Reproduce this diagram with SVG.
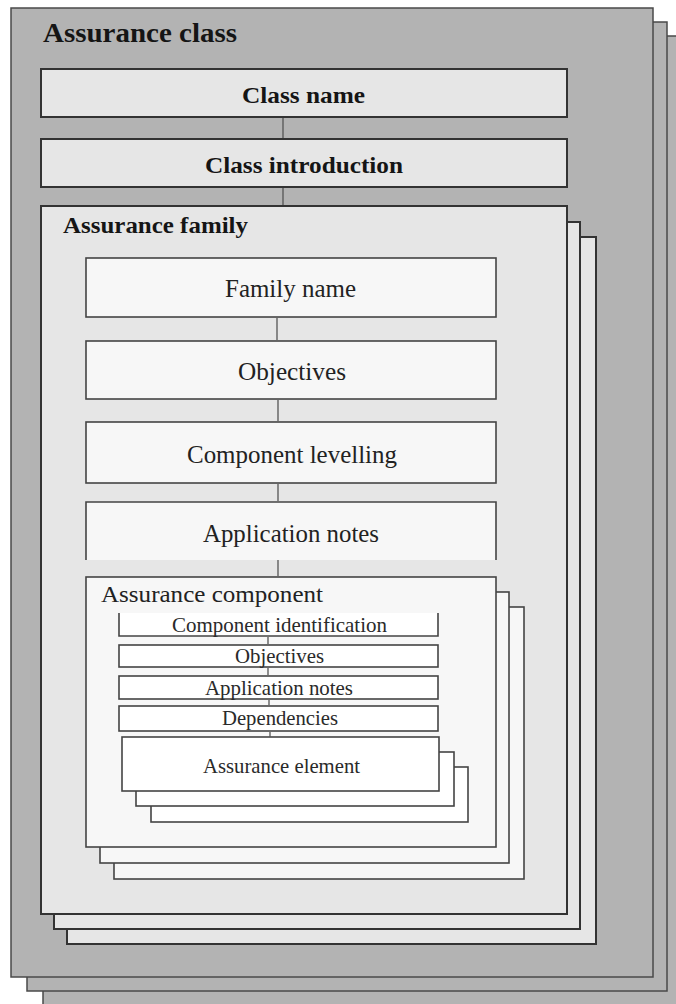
<svg xmlns="http://www.w3.org/2000/svg" width="676" height="1004" viewBox="0 0 676 1004">
<style>
.bg{fill:#ffffff}
.cls{fill:#b3b3b3;stroke:#4a4a4a;stroke-width:1.5}
.clsbox{fill:#e6e6e6;stroke:#333;stroke-width:2}
.fam{fill:#e6e6e6;stroke:#333;stroke-width:2}
.famb{fill:#f7f7f7;stroke:#444;stroke-width:1.6}
.comp{fill:#f7f7f7;stroke:#444;stroke-width:1.6}
.sub{fill:#ffffff;stroke:#444;stroke-width:1.6}
.open{fill:none;stroke:#444;stroke-width:1.6}
.conn{stroke:#555;stroke-width:1.3;fill:none}
.tb{font-family:"Liberation Serif","Times New Roman",serif;font-weight:bold;fill:#151515}
.tr{font-family:"Liberation Serif","Times New Roman",serif;fill:#222}
.ts{font-family:"Liberation Serif","Times New Roman",serif;fill:#2a2a2a;font-size:21px}
</style>
<rect class="bg" x="0" y="0" width="676" height="1004"/>
<g id="assurance-class">
<rect class="cls" x="43" y="36" width="640" height="972"/>
<rect class="cls" x="27" y="22" width="640" height="969"/>
<rect class="cls" x="11" y="8" width="642" height="969"/>
<text class="tb" x="43" y="42" font-size="28" textLength="194" lengthAdjust="spacingAndGlyphs">Assurance class</text>
</g>
<g id="class-name">
<rect class="clsbox" x="41" y="69" width="526" height="48"/>
<text class="tb" x="242" y="103" font-size="24" textLength="123" lengthAdjust="spacingAndGlyphs">Class name</text>
</g>
<g id="class-introduction">
<rect class="clsbox" x="41" y="139" width="526" height="48"/>
<text class="tb" x="205" y="173" font-size="24" textLength="198" lengthAdjust="spacingAndGlyphs">Class introduction</text>
</g>
<g id="assurance-family">
<rect class="fam" x="67" y="237" width="529" height="707" fill="#e8e8e8"/>
<rect class="fam" x="54" y="222" width="526" height="707" fill="#e8e8e8"/>
<rect class="fam" x="41" y="206" width="526" height="708"/>
<text class="tb" x="63" y="233" font-size="24" textLength="185" lengthAdjust="spacingAndGlyphs">Assurance family</text>
</g>
<g id="family-name">
<rect class="famb" x="86" y="258" width="410" height="59"/>
<text class="tr" x="225" y="297" font-size="25" textLength="131" lengthAdjust="spacingAndGlyphs">Family name</text>
</g>
<g id="objectives">
<rect class="famb" x="86" y="341" width="410" height="58"/>
<text class="tr" x="238" y="380" font-size="25" textLength="108" lengthAdjust="spacingAndGlyphs">Objectives</text>
</g>
<g id="component-levelling">
<rect class="famb" x="86" y="422" width="410" height="61"/>
<text class="tr" x="187" y="463" font-size="25" textLength="210" lengthAdjust="spacingAndGlyphs">Component levelling</text>
</g>
<g id="application-notes">
<rect x="86" y="502" width="410" height="58" fill="#f7f7f7"/>
<path class="open" d="M86 560 V502 H496 V560"/>
<text class="tr" x="203" y="542" font-size="25" textLength="176" lengthAdjust="spacingAndGlyphs">Application notes</text>
</g>
<g id="assurance-component">
<rect class="comp" x="114" y="607" width="410" height="272"/>
<rect class="comp" x="100" y="592" width="409" height="271"/>
<rect class="comp" x="86" y="577" width="410" height="270"/>
<text class="tr" x="101" y="602" font-size="24" textLength="222" lengthAdjust="spacingAndGlyphs">Assurance component</text>
</g>
<g id="component-identification">
<rect x="119" y="613" width="319" height="23" fill="#ffffff"/>
<path class="open" d="M119 613 V636 H438 V613"/>
<text class="ts" x="172" y="632" textLength="215" lengthAdjust="spacingAndGlyphs">Component identification</text>
</g>
<g id="component-objectives">
<rect class="sub" x="119" y="645" width="319" height="22"/>
<text class="ts" x="235" y="663" textLength="89" lengthAdjust="spacingAndGlyphs">Objectives</text>
</g>
<g id="component-application-notes">
<rect class="sub" x="119" y="676" width="319" height="23"/>
<text class="ts" x="205" y="695" textLength="148" lengthAdjust="spacingAndGlyphs">Application notes</text>
</g>
<g id="dependencies">
<rect class="sub" x="119" y="706" width="319" height="25"/>
<text class="ts" x="222" y="725" textLength="116" lengthAdjust="spacingAndGlyphs">Dependencies</text>
</g>
<g id="assurance-element">
<rect class="sub" x="151" y="767" width="317" height="55"/>
<rect class="sub" x="136" y="752" width="318" height="54"/>
<rect class="sub" x="122" y="737" width="317" height="54"/>
<text class="ts" x="203" y="773" textLength="157" lengthAdjust="spacingAndGlyphs">Assurance element</text>
</g>
<g id="connectors">
<line class="conn" x1="283" y1="118" x2="283" y2="138"/>
<line class="conn" x1="283" y1="188" x2="283" y2="205"/>
<line class="conn" x1="277" y1="318" x2="277" y2="340"/>
<line class="conn" x1="278" y1="400" x2="278" y2="421"/>
<line class="conn" x1="278" y1="484" x2="278" y2="501"/>
<line class="conn" x1="278" y1="560" x2="278" y2="576"/>
<line class="conn" x1="268" y1="637" x2="268" y2="644"/>
<line class="conn" x1="268" y1="668" x2="268" y2="675"/>
<line class="conn" x1="269" y1="700" x2="269" y2="705"/>
<line class="conn" x1="270" y1="732" x2="270" y2="737"/>
</g>
</svg>
